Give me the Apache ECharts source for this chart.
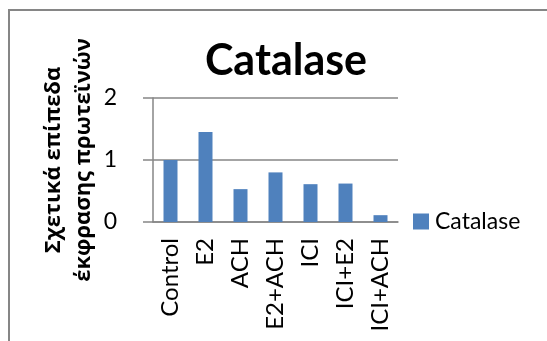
<!DOCTYPE html>
<html>
<head>
<meta charset="utf-8">
<script src="https://cdn.jsdelivr.net/npm/echarts@6/dist/echarts.min.js"></script>
<style>
  html, body { margin: 0; padding: 0; background: #fff; }
  #chart { width: 547px; height: 341px; }
</style>
</head>
<body>
<div id="chart"></div>
<script>
// Relative protein expression of catalase per treatment group
const categories = ['Control', 'E2', 'ACH', 'E2+ACH', 'ICI', 'ICI+E2', 'ICI+ACH'];
const catalase = [1.0, 1.45, 0.53, 0.80, 0.61, 0.62, 0.11];
const yTicks = [0, 1, 2];
const seriesName = 'Catalase';
const yTitle = 'Σχετικά επίπεδα\nέκφρασης πρωτεϊνών';

const FONT = 'Lato, "Noto Sans", sans-serif';
const GREEK_FONT = '"Open Sans", "Noto Sans", sans-serif';
const GRAY = '#868686';
const BLUE = '#4f81bd';

const chart = echarts.init(document.getElementById('chart'), null, { renderer: 'canvas' });

chart.setOption({
  animation: false,
  backgroundColor: '#fff',
  title: {
    text: seriesName,
    left: 281,
    top: 35,
    textAlign: 'center',
    textStyle: { fontFamily: FONT, fontWeight: 'bold', fontSize: 43, color: '#000' }
  },
  legend: {
    data: [{ name: seriesName, icon: 'rect' }],
    left: 413,
    top: 210,
    padding: 0,
    itemWidth: 16,
    itemHeight: 16,
    itemGap: 0,
    textStyle: { fontFamily: FONT, fontSize: 23, color: '#000', padding: [0, 0, 0, 1] }
  },
  grid: { left: 153, right: 149, top: 98, bottom: 119, containLabel: false },
  xAxis: {
    type: 'category',
    data: categories,
    axisLine: { lineStyle: { color: GRAY, width: 1.5 } },
    axisTick: { length: 8, lineStyle: { color: GRAY, width: 1.5 } },
    axisLabel: { rotate: 90, margin: 16, fontFamily: FONT, fontSize: 24, color: '#000' }
  },
  yAxis: {
    type: 'value',
    min: yTicks[0],
    max: yTicks[yTicks.length - 1],
    interval: 1,
    name: yTitle,
    nameLocation: 'middle',
    nameRotate: 90,
    nameGap: 54,
    nameTextStyle: { fontFamily: GREEK_FONT, fontWeight: 'bold', fontSize: 22, lineHeight: 30, color: '#000' },
    axisLine: { show: true, lineStyle: { color: GRAY, width: 1.5 } },
    axisTick: { show: true, length: 10, lineStyle: { color: GRAY, width: 1.5 } },
    splitLine: { lineStyle: { color: GRAY, width: 1.5 } },
    axisLabel: { margin: 36, fontFamily: FONT, fontSize: 23, color: '#000' }
  },
  series: [{
    name: seriesName,
    type: 'bar',
    data: catalase,
    barWidth: '40%',
    itemStyle: { color: BLUE }
  }],
  graphic: [{
    type: 'rect',
    shape: { x: 9, y: 10, width: 700, height: 500 },
    style: { fill: null, stroke: GRAY, lineWidth: 2 },
    silent: true,
    z: 100
  }]
});
</script>
</body>
</html>
